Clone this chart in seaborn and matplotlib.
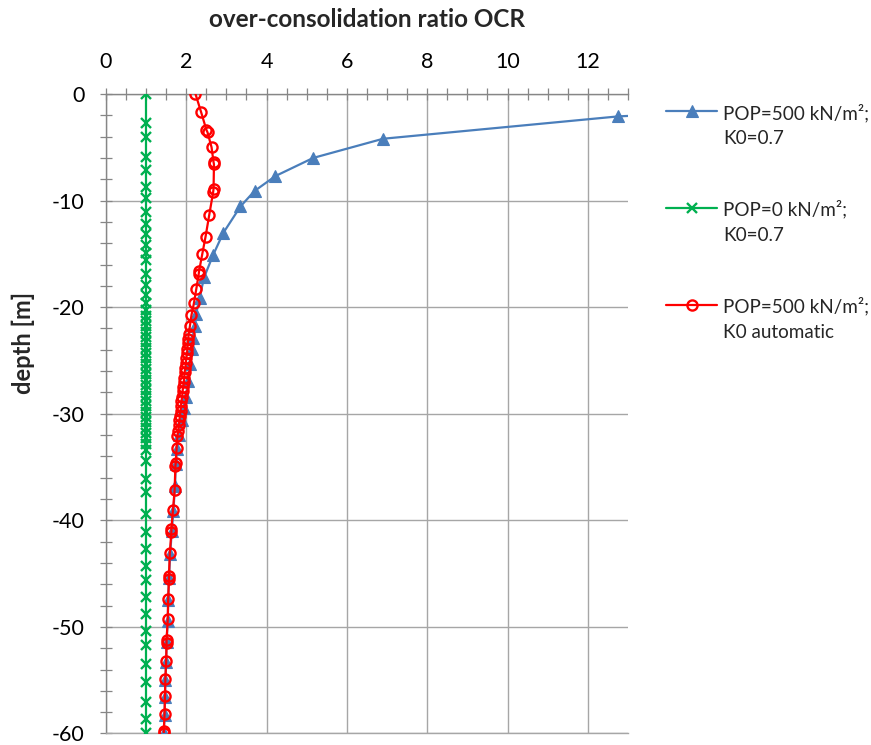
import numpy as np
import pandas as pd
import matplotlib
matplotlib.use("Agg")
import matplotlib.pyplot as plt
import seaborn as sns
from matplotlib.ticker import MultipleLocator
from matplotlib.legend_handler import HandlerLine2D

# ---------------- data ----------------
blue_label = "POP=500 kN/m²;\nK0=0.7"
blue_ocr = [25.0, 12.76, 6.90, 5.16, 4.22, 3.70, 3.35, 2.92, 2.67, 2.45, 2.33, 2.25, 2.21,
            2.17, 2.14, 2.10, 2.05, 1.99, 1.95, 1.90, 1.82, 1.77, 1.74, 1.72, 1.68, 1.64,
            1.60, 1.57, 1.55, 1.54, 1.51, 1.50, 1.48, 1.47, 1.46, 1.44]
blue_depth = [0.0, -2.1, -4.2, -6.0, -7.7, -9.1, -10.55, -13.05, -15.1, -17.15, -19.1, -20.6, -21.8,
              -22.9, -23.9, -25.3, -26.9, -28.4, -29.5, -30.6, -32.0, -33.3, -34.7, -36.8, -39.1, -41.0,
              -43.2, -45.4, -47.5, -49.4, -51.4, -53.3, -55.0, -56.6, -58.3, -60.0]

green_label = "POP=0 kN/m²;\nK0=0.7"
green_depth = [0.0, -2.7, -4.0, -5.9, -7.1, -8.7, -9.8, -11.1, -12.2, -13.1, -14.2, -14.9, -15.6,
               -16.9, -17.9, -18.9, -19.6, -20.3, -20.8, -21.3, -21.8, -22.3, -22.8, -23.3, -23.8,
               -24.3, -24.8, -25.3, -25.8, -26.3, -26.8, -27.3, -27.8, -28.3, -28.8, -29.3, -29.8,
               -30.3, -30.8, -31.3, -31.8, -32.3, -32.8, -33.4, -34.4, -36.1, -37.3, -39.4, -41.1,
               -42.7, -44.3, -45.6, -47.2, -48.8, -50.4, -51.7, -53.5, -55.2, -57.0, -58.6, -60.0]
green_ocr = [1.0] * len(green_depth)

red_label = "POP=500 kN/m²;\nK0 automatic"
red_depth = [0.0, -1.7, -3.35, -3.6, -5.0, -6.4, -6.6, -8.9, -9.2, -11.4, -13.4, -15.0, -16.6,
             -16.9, -18.3, -19.65, -20.75, -21.8, -22.5, -23.0, -23.4, -23.9, -24.3, -24.8, -25.2,
             -25.7, -26.1, -26.6, -27.0, -27.5, -27.9, -28.4, -28.8, -29.3, -29.7, -30.2, -30.6,
             -31.1, -31.6, -32.1, -33.2, -34.6, -34.9, -37.2, -39.0, -40.8, -41.1, -43.1, -45.2,
             -45.5, -47.4, -49.3, -51.2, -51.5, -53.2, -54.9, -56.5, -58.2, -59.8, -60.0]
red_ocr = [2.23, 2.37, 2.50, 2.53, 2.63, 2.68, 2.69, 2.68, 2.67, 2.57, 2.48, 2.40, 2.32,
           2.31, 2.25, 2.19, 2.13, 2.09, 2.06, 2.05, 2.04, 2.03, 2.02, 2.00, 1.99,
           1.98, 1.96, 1.95, 1.94, 1.92, 1.91, 1.90, 1.88, 1.87, 1.86, 1.84, 1.83,
           1.82, 1.80, 1.78, 1.76, 1.74, 1.73, 1.71, 1.67, 1.63, 1.63, 1.59, 1.57,
           1.57, 1.55, 1.54, 1.51, 1.51, 1.50, 1.48, 1.47, 1.46, 1.44, 1.44]

x_ticks = [0, 2, 4, 6, 8, 10, 12]
y_ticks = [0, -10, -20, -30, -40, -50, -60]
x_title = "over-consolidation ratio OCR"
y_title = "depth [m]"

# ---------------- style ----------------
sns.set_theme(style="white")
plt.rcParams["font.family"] = ["Lato", "DejaVu Sans"]
plt.rcParams["axes.unicode_minus"] = False

fig = plt.figure(figsize=(8.71, 7.45), dpi=100)
ax = fig.add_axes([0.1216, 0.01544, 0.5995, 0.8584])

axis_col = "#868686"
grid_col = "#A6A6A6"

df_g = pd.DataFrame({"ocr": green_ocr, "depth": green_depth})
df_b = pd.DataFrame({"ocr": blue_ocr, "depth": blue_depth})
df_r = pd.DataFrame({"ocr": red_ocr, "depth": red_depth})

sns.lineplot(data=df_g, x="ocr", y="depth", sort=False, estimator=None, ax=ax,
             color="#00B050", linewidth=1.6, marker="x", markersize=7,
             markeredgecolor="#00B050", markeredgewidth=1.7, label=green_label, zorder=3)
sns.lineplot(data=df_b, x="ocr", y="depth", sort=False, estimator=None, ax=ax,
             color="#4A7EBB", linewidth=1.6, marker="^", markersize=8.5,
             markeredgecolor="#4A7EBB", markerfacecolor="#4A7EBB", markeredgewidth=0.8,
             label=blue_label, zorder=4)
sns.lineplot(data=df_r, x="ocr", y="depth", sort=False, estimator=None, ax=ax,
             color="#FF0000", linewidth=1.6, marker="o", markersize=7.3,
             markeredgecolor="#FF0000", markerfacecolor="none", markeredgewidth=1.7,
             label=red_label, zorder=5)

ax.set_xlim(0, 13)
ax.set_ylim(-60, 0)

ax.xaxis.tick_top()
ax.xaxis.set_label_position("top")
ax.set_xticks(x_ticks)
ax.set_xticklabels([str(v) for v in x_ticks])
ax.set_yticks(y_ticks)
ax.set_yticklabels([str(v) for v in y_ticks])
ax.xaxis.set_minor_locator(MultipleLocator(0.5))
ax.yaxis.set_minor_locator(MultipleLocator(2))

ax.tick_params(axis="both", which="both", direction="inout", length=9, width=0.9,
               color=axis_col, labelsize=15.5, labelcolor="black")
ax.tick_params(axis="x", which="both", top=True, bottom=False, pad=11)
ax.tick_params(axis="y", which="both", left=True, right=False, pad=11)

ax.grid(True, which="major", color=grid_col, linewidth=1.0)
ax.grid(False, which="minor")
ax.set_axisbelow(True)

ax.spines["right"].set_visible(False)
ax.spines["bottom"].set_color(grid_col)
ax.spines["bottom"].set_linewidth(1.0)
for s in ["top", "left"]:
    ax.spines[s].set_color(axis_col)
    ax.spines[s].set_linewidth(1.0)
    ax.spines[s].set_zorder(2.5)

ax.set_xlabel(x_title, fontsize=17.5, fontweight="bold")
ax.xaxis.set_label_coords(0.5, 1.105)
ax.set_ylabel(y_title, fontsize=17, fontweight="bold")
ax.yaxis.set_label_coords(-0.135, 0.611)


class UpHandler(HandlerLine2D):
    def create_artists(self, legend, orig_handle, xdescent, ydescent, width, height,
                       fontsize, trans):
        return super().create_artists(legend, orig_handle, xdescent, ydescent, width,
                                      height + 21, fontsize, trans)


handles, labels = ax.get_legend_handles_labels()
order = [labels.index(blue_label), labels.index(green_label), labels.index(red_label)]
handles = [handles[i] for i in order]
labels = [labels[i] for i in order]
leg = ax.legend(handles, labels, loc="upper left", bbox_to_anchor=(0.765, 0.861),
                bbox_transform=fig.transFigure, frameon=False, fontsize=13.6,
                handlelength=2.7, handletextpad=0.31, labelspacing=2.8,
                borderaxespad=0, borderpad=0,
                handler_map={h: UpHandler(numpoints=1) for h in handles})
for t in leg.get_texts():
    t.set_linespacing(1.58)

fig.savefig("out.png", dpi=100)
